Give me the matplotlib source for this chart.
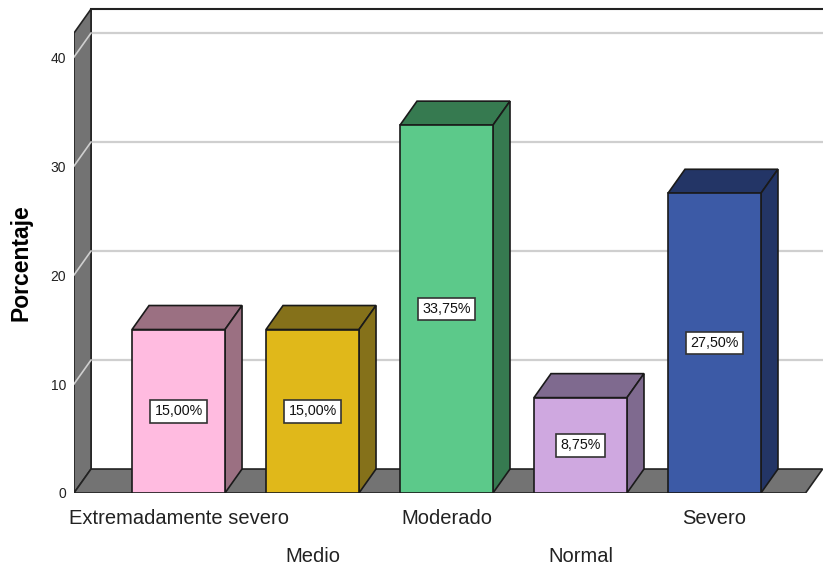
import matplotlib
matplotlib.use('Agg')
from matplotlib import pyplot as plt
from matplotlib.patches import Polygon, Rectangle

categorias = ['Extremadamente severo', 'Medio', 'Moderado', 'Normal', 'Severo']
porcentajes = [15.00, 15.00, 33.75, 8.75, 27.50]
etiquetas = ['15,00%', '15,00%', '33,75%', '8,75%', '27,50%']
frente = ['#FFBBE0', '#E0B81A', '#5CC98A', '#CFA8E0', '#3C5AA6']
lado = ['#9B7082', '#85711A', '#367A50', '#7F6A8F', '#233566']
yticks = [0, 10, 20, 30, 40]

plt.rcParams['font.family'] = ['Liberation Sans', 'DejaVu Sans']

fig = plt.figure(figsize=(8.23, 5.67), dpi=100)
ax = fig.add_axes([74 / 823, (567 - 493) / 567, (823 - 74) / 823, 493 / 567])
ax.set_xlim(-0.78, 4.81)
ax.set_ylim(0, 45.23)
for s in ax.spines.values():
    s.set_visible(False)

# depth of the 3D effect in data units
dx, dy = 0.127, 2.2
x0 = -0.78
xr = 4.68
ytop = 42.2
ancho = 0.694
gris = '#737373'
grid_c = '#cfcfcf'

# back wall
ax.add_patch(Rectangle((x0 + dx, dy), 10, ytop, facecolor='white',
                       edgecolor='none', zorder=0))
ax.plot([x0 + dx, 10], [ytop + dy, ytop + dy], color='#222222', lw=1.5, zorder=1)
ax.plot([x0 + dx, x0 + dx], [dy, ytop + dy], color='#222222', lw=1.2, zorder=1)
for v in yticks[1:]:
    ax.plot([x0 + dx, 10], [v + dy, v + dy], color=grid_c, lw=1.6, zorder=1)

# left wall
ax.add_patch(Polygon([(x0, 0), (x0, ytop), (x0 + dx, ytop + dy), (x0 + dx, dy)],
                     closed=True, facecolor=gris, edgecolor='#222222', lw=1.2, zorder=2))
for v in yticks[1:]:
    ax.plot([x0, x0 + dx], [v, v + dy], color=grid_c, lw=1.2, zorder=3)

# floor
ax.add_patch(Polygon([(x0, 0), (xr, 0), (xr + dx, dy), (x0 + dx, dy)],
                     closed=True, facecolor=gris, edgecolor='#222222', lw=1.2, zorder=2))

# bars
for i, (v, fc, sc) in enumerate(zip(porcentajes, frente, lado)):
    xl = i - ancho / 2
    xrr = i + ancho / 2
    ax.add_patch(Polygon([(xl, v), (xrr, v), (xrr + dx, v + dy), (xl + dx, v + dy)],
                         closed=True, facecolor=sc, edgecolor='#1a1a1a', lw=1.2, zorder=4))
    ax.add_patch(Polygon([(xrr, 0), (xrr + dx, dy), (xrr + dx, v + dy), (xrr, v)],
                         closed=True, facecolor=sc, edgecolor='#1a1a1a', lw=1.2, zorder=4))
    ax.add_patch(Rectangle((xl, 0), ancho, v, facecolor=fc,
                           edgecolor='#1a1a1a', lw=1.2, zorder=5))
    ax.text(i, v / 2, etiquetas[i], ha='center', va='center', fontsize=10.3, zorder=6,
            color='#111111',
            bbox=dict(boxstyle='square,pad=0.3', facecolor='white',
                      edgecolor='#333333', lw=1.2))

ax.set_yticks(yticks)
ax.set_yticklabels([str(t) for t in yticks], fontsize=10, color='#222222')
ax.tick_params(axis='y', length=0, pad=5.8)
ax.set_xticks([])

for i, c in enumerate(categorias):
    off = -18 if i % 2 == 0 else -46
    ax.annotate(c, xy=(i, 0), xycoords=('data', 'axes fraction'),
                xytext=(0, off), textcoords='offset points',
                ha='center', va='center', fontsize=14.5, color='#222222')

fig.text(21 / 823, 1 - 263 / 567, 'Porcentaje', rotation=90, ha='center', va='center',
         fontsize=16.5, fontweight='bold')

fig.savefig('out.png', dpi=100)
